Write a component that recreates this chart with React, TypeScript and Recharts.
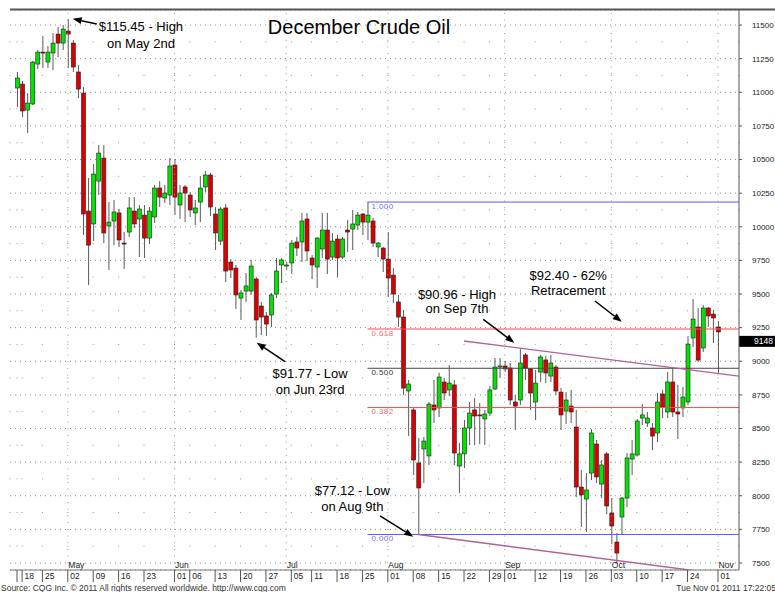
import React from 'react';
import { ComposedChart, Bar, XAxis, YAxis, CartesianGrid, ReferenceLine, ReferenceDot } from 'recharts';

const FONT = '"Liberation Sans", Arial, sans-serif';

// daily bars, Apr 15 2011 .. Nov 1 2011, x = trading day index
const opens = [
  11032, 11061, 10868, 10913, 11210, 11299, 11225, 11292, 11433, 11366,
  11455, 11366, 11151, 10994, 10117, 10021, 10340, 10511, 10006, 10043,
  10103, 9879, 9961, 10117, 10058, 10087, 9916, 10073, 10288, 10214,
  10236, 10459, 10162, 10296, 10236, 10103, 10184, 10296, 10385, 10095,
  9894, 10140, 9738, 9693, 9470, 9522, 9522, 9612, 9411, 9337,
  9344, 9500, 9716, 9708, 9731, 9887, 9887, 10058, 9768, 9701,
  9835, 9976, 9775, 9909, 9775, 9976, 9983, 10013, 10095, 10035,
  10043, 9850, 9842, 9760, 9641, 9441, 9329, 8779, 8638, 8244,
  8348, 8296, 8675, 8653, 8846, 8787, 8824, 8221, 8311, 8504,
  8638, 8601, 8571, 8615, 8794, 8957, 8965, 8950, 8697, 8712,
  9047, 8943, 8697, 8920, 9010, 8890, 8957, 8771, 8630, 8667,
  8511, 8065, 7976, 8169, 8385, 8087, 8311, 7872, 7656, 7842,
  7983, 8273, 8303, 8578, 8541, 8504, 8467, 8757, 8623, 8846,
  8623, 8653, 8697, 9173, 9255, 9099, 9396, 9351, 9255,
];
const highs = [
  11151, 11084, 10994, 11233, 11314, 11418, 11344, 11441, 11485, 11500,
  11545, 11388, 11203, 11039, 10363, 10467, 10608, 10608, 10184, 10199,
  10132, 9961, 10221, 10221, 10162, 10162, 10147, 10311, 10340, 10311,
  10511, 10504, 10311, 10311, 10258, 10199, 10377, 10415, 10400, 10147,
  10147, 10169, 9760, 9716, 9530, 9656, 9753, 9627, 9441, 9366,
  9508, 9768, 9768, 9738, 9902, 9924, 10103, 10103, 9790, 9924,
  10103, 10103, 9954, 9939, 9924, 10050, 10125, 10110, 10103, 10184,
  10065, 9887, 9850, 9961, 9693, 9493, 9381, 8861, 8653, 8429,
  8437, 8697, 8861, 8913, 8876, 8972, 8861, 8392, 8563, 8697,
  8727, 8690, 8638, 8816, 9024, 9024, 9002, 8987, 8749, 9096,
  9061, 8950, 8935, 9047, 9039, 9047, 8972, 8801, 8771, 8787,
  8638, 8192, 8169, 8496, 8415, 8266, 8325, 7983, 7723, 7991,
  8318, 8415, 8571, 8682, 8623, 8541, 8764, 8787, 8920, 8950,
  8824, 8809, 9188, 9463, 9396, 9418, 9403, 9381, 9299,
];
const lows = [
  10890, 10816, 10697, 10905, 11173, 11180, 11180, 11165, 11262, 11314,
  11180, 11151, 10957, 9939, 9567, 9894, 10236, 9879, 9679, 9864,
  9850, 9686, 9924, 9991, 9775, 9768, 9872, 10028, 10147, 10177,
  10162, 10087, 10058, 10035, 10073, 10013, 10035, 10258, 10080, 9827,
  9864, 9589, 9619, 9389, 9307, 9441, 9493, 9177, 9195, 9188,
  9255, 9470, 9582, 9679, 9649, 9783, 9738, 9745, 9612, 9545,
  9768, 9649, 9753, 9627, 9760, 9812, 9827, 9976, 9939, 9902,
  9850, 9775, 9664, 9478, 9433, 9255, 8749, 8444, 8154, 7712,
  8095, 8229, 8541, 8586, 8712, 8742, 8229, 8021, 8206, 8377,
  8377, 8385, 8377, 8593, 8787, 8876, 8920, 8675, 8489, 8675,
  8861, 8638, 8563, 8846, 8838, 8846, 8749, 8489, 8534, 8541,
  7991, 7768, 7731, 8117, 8095, 7983, 7864, 7641, 7495, 7708,
  7916, 8154, 8290, 8526, 8511, 8340, 8400, 8578, 8578, 8586,
  8422, 8586, 8675, 9106, 8994, 9069, 9255, 9136, 8913,
];
const closes = [
  11106, 10861, 10920, 11225, 11299, 11292, 11299, 11366, 11366, 11470,
  11433, 11188, 11024, 10095, 9864, 10392, 10548, 9954, 10035, 10110,
  9902, 9872, 10140, 10021, 10132, 9916, 10117, 10288, 10221, 10251,
  10452, 10221, 10251, 10251, 10125, 10140, 10288, 10385, 10147, 9954,
  10132, 9671, 9679, 9493, 9508, 9560, 9708, 9307, 9329, 9277,
  9493, 9671, 9753, 9716, 9879, 9842, 10043, 9820, 9716, 9916,
  9976, 9760, 9894, 9768, 9909, 9961, 10021, 10087, 10035, 10087,
  9879, 9879, 9760, 9619, 9500, 9329, 8801, 8831, 8266, 8058,
  8407, 8682, 8638, 8883, 8764, 8838, 8318, 8311, 8504, 8615,
  8593, 8598, 8608, 8787, 8957, 8965, 8943, 8712, 8667, 8987,
  8950, 8764, 8838, 9032, 8913, 8987, 8779, 8601, 8712, 8623,
  8065, 8006, 8043, 8467, 8140, 8229, 7924, 7775, 7574, 7983,
  8281, 8311, 8556, 8601, 8578, 8444, 8697, 8660, 8846, 8623,
  8608, 8734, 9128, 9314, 9009, 9396, 9337, 9322, 9218,
];
const lastPrice = 9148;

const xDomain = [-1.38, 142.13];
const yDomain = [7448, 11612];

// weekly date ticks on the bottom row
const tickIdx = [0, 1, 5, 10, 15, 20, 25, 31, 34, 39, 44, 49, 54, 58, 63, 68, 73, 78, 83, 88, 93, 96, 102, 107, 112, 117, 122, 127, 132, 138];
const tickText = ['', '18', '25', '02', '09', '16', '23', '01', '06', '13', '20', '27', '05', '11', '18', '25', '01', '08', '15', '22', '29', '01', '12', '19', '26', '03', '10', '17', '24', '01'];
const monthIdx = [10, 31, 53, 73, 96, 117, 138];
const monthText = ['May', 'Jun', 'Jul', 'Aug', 'Sep', 'Oct', 'Nov'];
const priceTicks = [7500, 7750, 8000, 8250, 8500, 8750, 9000, 9250, 9500, 9750, 10000, 10250, 10500, 10750, 11000, 11250, 11500];
const minorTicks = Array.from({ length: 83 }, (_, k) => 7450 + k * 50);

// fibonacci retracement from the Aug 9 low to the Jul 26 high
const fibStart = 69;
const fibLevels = [10184, 9240, 8948, 8656, 7712];
const fibText = ['1.000', '0.618', '0.500', '0.382', '0.000'];
const fibColor = ['#5a5aff', '#ff4a4a', '#484848', '#ff4a4a', '#5a5aff'];
const fibTextColor = ['#7070ff', '#ff6a6a', '#333333', '#ff6a6a', '#7070ff'];

const upperTrend = [{ x: 88, y: 9151 }, { x: 142.1, y: 8890 }];
const lowerTrend = [{ x: 79, y: 7712 }, { x: 142.1, y: 7400 }];

const notes = [
  { x: 24.4, y: 11493, lines: ['$115.45 - High', 'on May 2nd'], gap: 17 },
  { x: 57.7, y: 8909, lines: ['$91.77 - Low', 'on Jun 23rd'], gap: 16 },
  { x: 86.6, y: 9500, lines: ['$90.96 - High', 'on Sep 7th'], gap: 14.5 },
  { x: 108.5, y: 9641, lines: ['$92.40 - 62%', 'Retracement'], gap: 15 },
  { x: 66.0, y: 8039, lines: ['$77.12 - Low', 'on Aug 9th'], gap: 16 },
];
const arrows = [
  [{ x: 15.7, y: 11508 }, { x: 10.96, y: 11547 }],
  [{ x: 52.76, y: 8997 }, { x: 47.18, y: 9138 }],
  [{ x: 91.79, y: 9312 }, { x: 97.89, y: 9138 }],
  [{ x: 113.78, y: 9448 }, { x: 119.04, y: 9294 }],
  [{ x: 71.46, y: 7850 }, { x: 78.01, y: 7696 }],
];

const candles = opens.map((o, i) => ({
  i,
  open: o,
  high: highs[i],
  low: lows[i],
  close: closes[i],
  range: [lows[i], highs[i]],
}));

const Candle = (props: any) => {
  const { x, y, width, height } = props;
  const d = props.payload || props;
  if (d == null || d.high == null) return null;
  const top = Math.min(y, y + height);
  const h = Math.abs(height);
  const cx = x + width / 2;
  const py = (v: number) => top + ((d.high - v) / (d.high - d.low || 1)) * h;
  const bTop = py(Math.max(d.open, d.close));
  const bBot = py(Math.min(d.open, d.close));
  const up = d.close >= d.open;
  return (
    <g>
      <line x1={cx} x2={cx} y1={top} y2={top + h} stroke="#5a5a5a" strokeWidth={1} />
      <rect
        x={cx - 2}
        y={bTop}
        width={4}
        height={Math.max(1, bBot - bTop)}
        fill={up ? '#00e400' : '#dd0000'}
        stroke="#1e1e1e"
        strokeWidth={0.6}
      />
    </g>
  );
};

const DateTick = (props: any) => {
  const { x, y, payload } = props;
  const k = tickIdx.indexOf(payload.value);
  return (
    <g>
      <line x1={x} x2={x} y1={y} y2={y + 12} stroke="#555" />
      <text x={x + 2.5} y={y + 9} fontSize={8.5} fill="#222" fontFamily={FONT}>
        {k >= 0 ? tickText[k] : ''}
      </text>
    </g>
  );
};

const MonthLabel = (props: any) => {
  const vb = props.viewBox;
  if (!vb) return null;
  return (
    <text x={vb.x + 0.5} y={vb.y + vb.height - 2.5} fontSize={8.5} fill="#222" fontFamily={FONT}>
      {props.text}
    </text>
  );
};

const FibLabel = (props: any) => {
  const vb = props.viewBox;
  if (!vb) return null;
  return (
    <text x={vb.x + 4} y={vb.y + 6.5} fontSize={8} fill={props.color} fontFamily={FONT} letterSpacing={0.4}>
      {props.text}
    </text>
  );
};

const NoteLabel = (props: any) => {
  const vb = props.viewBox;
  if (!vb) return null;
  const cx = vb.x + (vb.width || 0) / 2;
  const cy = vb.y + (vb.height || 0) / 2 + 4.5;
  return (
    <text x={cx} y={cy} textAnchor="middle" fontSize={13} fill="#000" fontFamily={FONT}>
      {props.lines.map((l: string, k: number) => (
        <tspan key={k} x={cx} dy={k ? props.gap : 0}>
          {l}
        </tspan>
      ))}
    </text>
  );
};

const PriceTag = (props: any) => {
  const vb = props.viewBox;
  if (!vb) return null;
  const x0 = vb.x + vb.width;
  return (
    <g>
      <rect x={x0} y={vb.y - 5.5} width={36} height={11} fill="#000" />
      <text x={x0 + 34} y={vb.y + 3} textAnchor="end" fontSize={8.5} fill="#fff" fontFamily={FONT}>
        {props.value}
      </text>
    </g>
  );
};

const ArrowShape = (props: any) => {
  const { x1, y1, x2, y2 } = props;
  const dx = x2 - x1;
  const dy = y2 - y1;
  const len = Math.hypot(dx, dy) || 1;
  const ux = dx / len;
  const uy = dy / len;
  const bx = x2 - ux * 9;
  const by = y2 - uy * 9;
  const pts = `${x2},${y2} ${bx - uy * 3.5},${by + ux * 3.5} ${bx + uy * 3.5},${by - ux * 3.5}`;
  return (
    <g>
      <line x1={x1} y1={y1} x2={bx} y2={by} stroke="#000" strokeWidth={1.5} />
      <polygon points={pts} fill="#000" />
    </g>
  );
};

export default function App() {
  return (
    <div style={{ position: 'absolute', left: 0, top: 0, width: 775, height: 592, background: '#fff' }}>
      <ComposedChart
        width={775}
        height={592}
        data={candles}
        margin={{ top: 10, right: 0, bottom: 0, left: 10 }}
      >
        <CartesianGrid vertical={false} stroke="#8c8c8c" strokeDasharray="1 4" />
        <CartesianGrid horizontal={false} stroke="#9a9a9a" strokeDasharray="1 32.62" strokeDashoffset={2.3} />
        <XAxis
          type="number"
          dataKey="i"
          domain={xDomain}
          allowDataOverflow
          ticks={tickIdx}
          interval={0}
          tick={(p: any) => <DateTick {...p} />}
          tickLine={false}
          tickSize={0}
          tickMargin={0}
          height={22}
          axisLine={{ stroke: '#777' }}
        />
        <YAxis
          orientation="right"
          domain={yDomain}
          allowDataOverflow
          ticks={priceTicks}
          interval={0}
          width={36}
          tickSize={3}
          tickMargin={10}
          tick={{ fontSize: 8, fill: '#222', fontFamily: FONT }}
          axisLine={{ stroke: '#555' }}
          tickLine={{ stroke: '#555' }}
        />
        <YAxis
          yAxisId="L"
          orientation="left"
          mirror
          width={0}
          domain={yDomain}
          allowDataOverflow
          ticks={minorTicks}
          interval={0}
          tick={false}
          tickSize={3}
          axisLine={{ stroke: '#333' }}
          tickLine={{ stroke: '#555' }}
        />
        {monthIdx.map((m, k) => (
          <ReferenceLine
            key={`m${k}`}
            x={m}
            stroke="#9a9a9a"
            strokeDasharray="1 5.7"
            label={<MonthLabel text={monthText[k]} />}
          />
        ))}
        {fibLevels.map((v, k) => (
          <ReferenceLine
            key={`f${k}`}
            segment={[{ x: fibStart, y: v }, { x: xDomain[1], y: v }]}
            stroke={fibColor[k]}
            strokeWidth={1}
            label={<FibLabel text={fibText[k]} color={fibTextColor[k]} />}
          />
        ))}
        <ReferenceLine segment={upperTrend} stroke="#b2628f" strokeWidth={1.4} ifOverflow="hidden" />
        <ReferenceLine segment={lowerTrend} stroke="#b2628f" strokeWidth={1.4} ifOverflow="hidden" />
        <Bar dataKey="range" barSize={4} shape={(p: any) => <Candle {...p} />} isAnimationActive={false} />
        <ReferenceLine y={lastPrice} stroke="none" label={<PriceTag value={String(lastPrice)} />} />
        {arrows.map((seg, k) => (
          <ReferenceLine key={`a${k}`} segment={seg} shape={(p: any) => <ArrowShape {...p} />} />
        ))}
        {notes.map((n, k) => (
          <ReferenceDot
            key={`n${k}`}
            x={n.x}
            y={n.y}
            r={0}
            fill="none"
            stroke="none"
            label={<NoteLabel lines={n.lines} gap={n.gap} />}
          />
        ))}
      </ComposedChart>
      <svg
        width={775}
        height={592}
        style={{ position: 'absolute', left: 0, top: 0, pointerEvents: 'none' }}
      >
        <line x1={10} x2={775} y1={9.5} y2={9.5} stroke="#555" strokeWidth={2} />
        <text x={359} y={34} textAnchor="middle" fontSize={20} fill="#000" fontFamily={FONT}>
          December Crude Oil
        </text>
        <text x={1} y={591} fontSize={8.5} fill="#333" fontFamily={FONT}>
          Source: CQG Inc. © 2011 All rights reserved worldwide. http://www.cqg.com
        </text>
        <text x={776} y={591} textAnchor="end" fontSize={8.5} fill="#333" fontFamily={FONT}>
          Tue Nov 01 2011 17:22:05
        </text>
      </svg>
    </div>
  );
}
